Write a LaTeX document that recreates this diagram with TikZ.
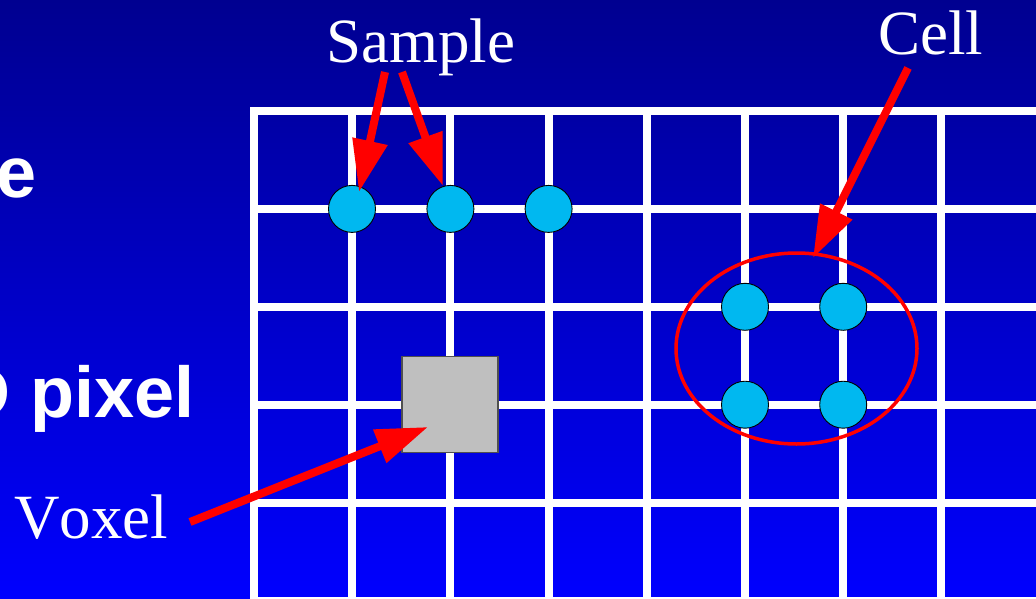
\documentclass[tikz,border=0pt]{standalone}
\usepackage{fontspec}
\setmainfont{Liberation Serif}
\setsansfont{Liberation Sans}
\newfontfamily\serifnokern{Liberation Serif}[Kerning=Off]
\usetikzlibrary{arrows.meta}
\definecolor{bgtop}{RGB}{0,0,144}
\definecolor{bgbot}{RGB}{0,0,255}
\definecolor{sampfill}{RGB}{0,184,240}
\definecolor{voxfill}{RGB}{191,191,191}
\definecolor{voxline}{RGB}{80,80,80}
\tikzset{
  gridline/.style={white, line width=8pt, line join=miter},
  sample/.style={circle, draw=black, line width=0.9pt, fill=sampfill, minimum size=47pt, inner sep=0pt},
  voxelbox/.style={rectangle, draw=voxline, line width=1.2pt, fill=voxfill, minimum size=96pt, inner sep=0pt},
  redarrow/.style={red, line width=8pt, -{Triangle[length=52pt, width=34pt]}},
  lbl/.style={text=white, inner sep=0pt, font=\serifnokern\fontsize{63}{63}\selectfont},
  bold/.style={text=white, inner sep=0pt, font=\sffamily\bfseries\fontsize{72}{72}\selectfont}
}
\begin{document}
\begin{tikzpicture}[x=1pt, y=-1pt]
\begin{scope}
\clip (0,0) rectangle (1036,599);
\shade[top color=bgtop, bottom color=bgbot] (0,0) rectangle (1036,599);
% grid
\draw[gridline] (1050,111) -- (254,111) -- (254,610);
\foreach \k in {1,...,8} \draw[gridline] ({254+98.2*\k},111) -- ({254+98.2*\k},610);
\foreach \j in {1,...,5} \draw[gridline] (254,{111+97.9*\j}) -- (1050,{111+97.9*\j});
% voxel
\node[voxelbox] (vox) at (450,404.5) {};
% cell ellipse
\draw[red, line width=3.5pt] (796.5,348.5) ellipse [x radius=120.5, y radius=95.5];
% samples
\node[sample] (s1) at (352,208.9) {};
\node[sample] (s2) at (450.4,208.9) {};
\node[sample] (s3) at (548.6,208.9) {};
\node[sample] (c1) at (745,306.8) {};
\node[sample] (c2) at (843.2,306.8) {};
\node[sample] (c3) at (745,404.7) {};
\node[sample] (c4) at (843.2,404.7) {};
% labels
\node[lbl, anchor=base west] (samplelbl) at (326,63) {Sample};
\node[lbl, anchor=base west] (celllbl) at (878,55) {Cell};
\node[lbl, anchor=base west] (voxellbl) at (14,538) {Voxel};
\node[bold, anchor=base east] (t1) at (37,197) {e};
\node[bold, anchor=base east] (t2) at (195,417) {D pixel};
% arrow start / end points
\coordinate (a1s) at (385,72);
\coordinate (a1e) at (359,192);
\coordinate (a2s) at (402,72);
\coordinate (a2e) at (443,186);
\coordinate (a3s) at (908,68);
\coordinate (a3e) at (813,258);
\coordinate (a4s) at (190,522);
\coordinate (a4e) at (428,427);
\draw[redarrow] (a1s) -- (a1e);
\draw[redarrow] (a2s) -- (a2e);
\draw[redarrow] (a3s) -- (a3e);
\draw[redarrow] (a4s) -- (a4e);
\end{scope}
\pgfresetboundingbox
\useasboundingbox (0,0) rectangle (1036,599);
\end{tikzpicture}
\end{document}
